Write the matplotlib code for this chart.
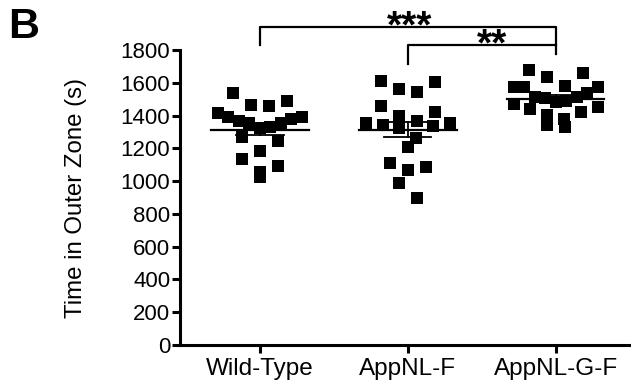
import numpy as np
import matplotlib
matplotlib.use("Agg")
import matplotlib.pyplot as plt

plt.rcParams['font.family'] = ['Liberation Sans', 'DejaVu Sans']

# values (s)
groups = ["Wild-Type", "AppNL-F", "AppNL-G-F"]
wild_type = [1536, 1462, 1458, 1487, 1417, 1389, 1368, 1352, 1328, 1324,
             1352, 1377, 1393, 1247, 1267, 1185, 1133, 1092, 1027, 1057]
app_nl_f = [1613, 1560, 1605, 1545, 1458, 1423, 1397, 1369, 1322, 1353,
            1336, 1356, 1342, 1261, 1210, 1088, 1068, 1109, 987, 895]
app_nl_g_f = [1678, 1633, 1658, 1576, 1572, 1576, 1580, 1539, 1515,
              1512, 1505, 1490, 1480, 1470, 1455, 1440, 1420, 1405,
              1376, 1332, 1342]
yticks = [0, 200, 400, 600, 800, 1000, 1200, 1400, 1600, 1800]

W, H, DPI = 631, 387, 100
fig = plt.figure(figsize=(W / DPI, H / DPI), dpi=DPI)
ax = fig.add_axes([180 / W, 1 - 345 / H, (W - 180) / W, (345 - 50) / H])
ax.set_xlim(-0.54, 2.51)
ax.set_ylim(0, 1800)

px_x = (W - 180) / 3.05  # pixels per category unit


def column_scatter(vals, row_h=100, step=18.0, max_w=84.0):
    # prism-like column scatter: bin into rows, spread each row,
    # highest values go to the outside
    vals = np.asarray(vals, float)
    order = list(np.argsort(-vals))
    offs = np.zeros(len(vals))
    while order:
        top = vals[order[0]]
        row = [j for j in order if vals[j] > top - row_h]
        order = [j for j in order if j not in row]
        n = len(row)
        if n == 1:
            continue
        sp = min(step, max_w / (n - 1))
        slots = [(k - (n - 1) / 2) * sp for k in range(n)]
        lo, hi = 0, n - 1
        for k, j in enumerate(row):
            if k % 2 == 0:
                offs[j] = slots[lo]
                lo += 1
            else:
                offs[j] = slots[hi]
                hi -= 1
    return offs / px_x


data = [wild_type, app_nl_f, app_nl_g_f]
for i, vals in enumerate(data):
    vals = np.asarray(vals, float)
    xs = i + column_scatter(vals)
    ax.scatter(xs, vals, marker='s', s=78, color='black', linewidths=0, zorder=3)
    m = vals.mean()
    sem = vals.std(ddof=1) / np.sqrt(len(vals))
    ax.plot([i - 0.33, i + 0.33], [m, m], color='black', lw=1.6, zorder=4)
    ax.plot([i, i], [m - sem, m + sem], color='black', lw=1.3, zorder=4)
    for yy in (m - sem, m + sem):
        ax.plot([i - 0.16, i + 0.16], [yy, yy], color='black', lw=1.3, zorder=4)

# significance brackets
ax.plot([0, 0, 2, 2], [1830, 1942, 1942, 1775], color='black', lw=1.6, clip_on=False)
ax.plot([1, 1, 2], [1715, 1832, 1832], color='black', lw=1.6, clip_on=False)
ax.text(1.01, 1874, "***", ha='center', va='baseline', fontsize=28, fontweight='bold')
ax.text(1.57, 1766, "**", ha='center', va='baseline', fontsize=28, fontweight='bold')

ax.spines['top'].set_visible(False)
ax.spines['right'].set_visible(False)
ax.spines['left'].set_linewidth(2.2)
ax.spines['bottom'].set_linewidth(2.2)
ax.set_yticks(yticks)
ax.set_xticks(range(len(groups)))
ax.set_xticklabels(groups, fontsize=17.5)
ax.tick_params(axis='y', labelsize=16, width=2.2, length=6, pad=1)
ax.tick_params(axis='x', width=2.2, length=6, pad=3)
ax.set_ylabel("Time in Outer Zone (s)", fontsize=17.3, labelpad=24)

fig.text(8 / W, 1 - 38 / H, "B", fontsize=31, fontweight='bold', ha='left', va='baseline')

fig.savefig("out.png", dpi=DPI)
